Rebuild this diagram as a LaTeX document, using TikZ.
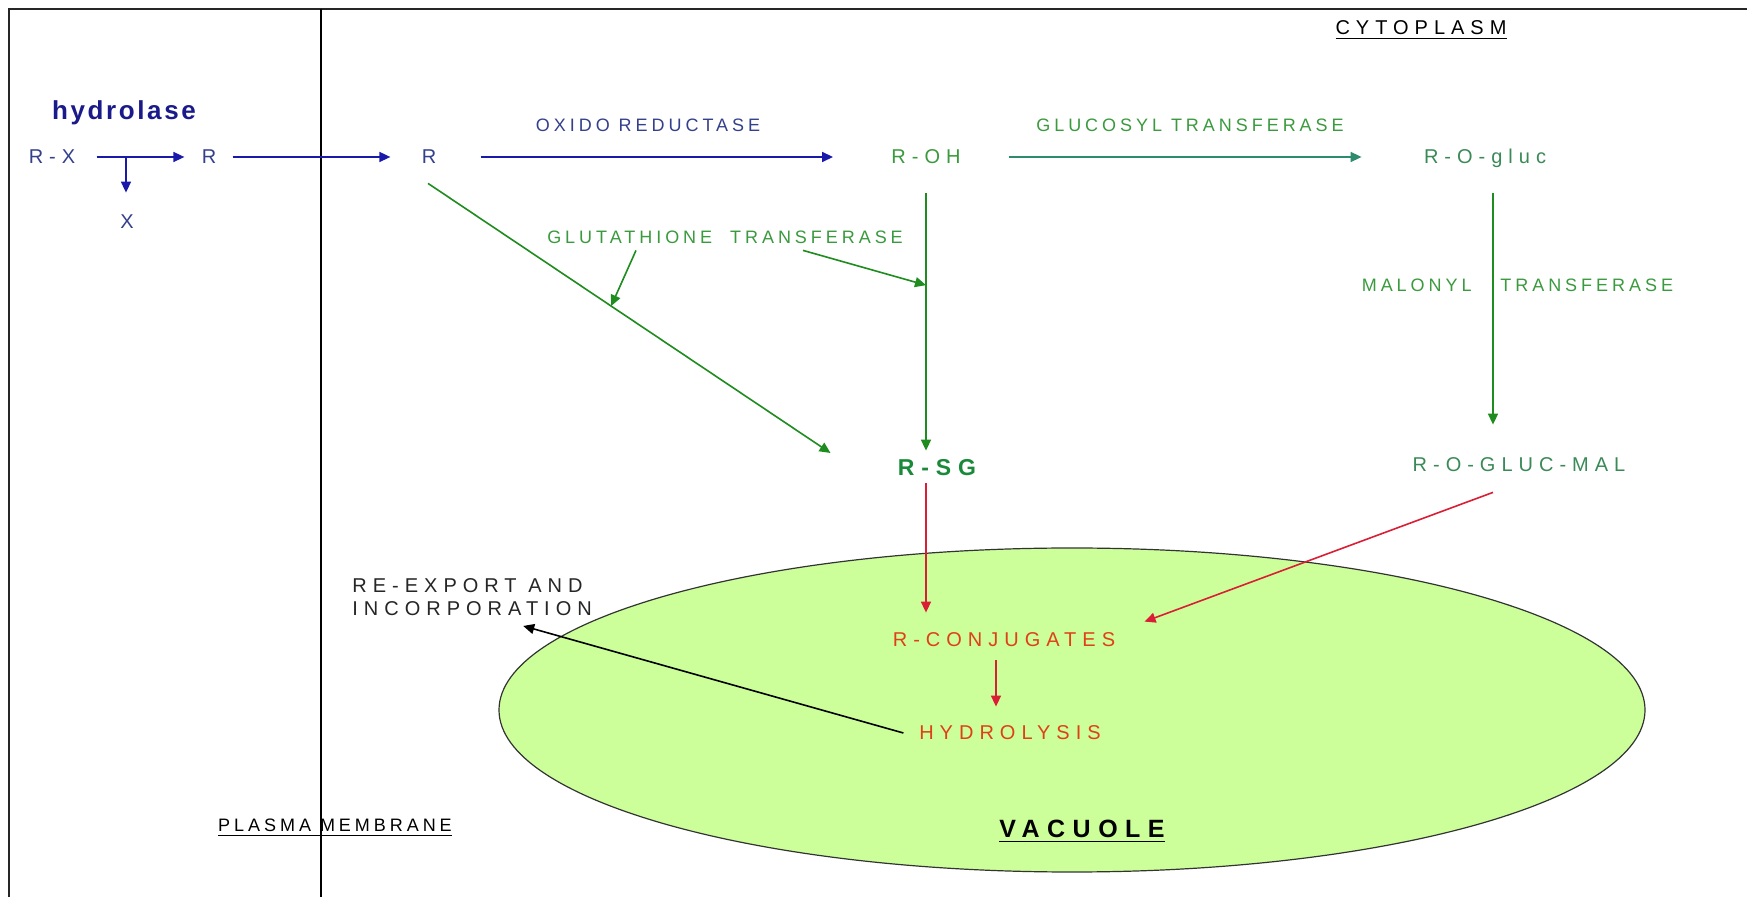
\documentclass[tikz,border=0pt]{standalone}
\usepackage{fontspec}
\setmainfont{Liberation Sans}
\newfontfamily\widefont[LetterSpace=30]{Liberation Sans}
\newfontfamily\enzfont[LetterSpace=22]{Liberation Sans}
\newfontfamily\titlefont[LetterSpace=10]{Liberation Sans}
\usetikzlibrary{arrows.meta,calc}

\definecolor{navytext}{HTML}{1A1A8A}
\definecolor{bluetext}{HTML}{34408C}
\definecolor{bluearrow}{HTML}{1A1AAA}
\definecolor{greentext}{HTML}{3A9A3E}
\definecolor{tealtext}{HTML}{3A8A58}
\definecolor{greenarrow}{HTML}{1E8C1E}
\definecolor{tealarrow}{HTML}{2E8B6E}
\definecolor{rsggreen}{HTML}{1A8A3A}
\definecolor{redtext}{HTML}{E04018}
\definecolor{redarrow}{HTML}{DA1E36}
\definecolor{vacgreen}{HTML}{CCFF99}

\begin{document}
\begin{tikzpicture}[
    x=0.5pt, y=-0.5pt,   % one unit = one pixel of the original, y downwards
    compound/.style={font=\widefont\fontsize{10}{12}\selectfont, inner sep=1pt, text height=7pt, text depth=0pt},
    enzyme/.style={font=\enzfont\fontsize{9}{11}\selectfont, inner sep=1pt, text height=6.5pt, text depth=0pt},
    heading/.style={font=\widefont\fontsize{10}{11.5}\selectfont, inner sep=1pt},
    flow/.style={-{Triangle[length=5.5pt,width=5pt]}, line width=0.8pt},
    frameline/.style={draw=black!85, line width=0.8pt}
]
    \useasboundingbox (0,0) rectangle (1747,897);
    \fill[white] (0,0) rectangle (1747,897);

    % =========================================================================
    % 1. FRAME, PLASMA MEMBRANE AND VACUOLE
    % =========================================================================
    \draw[frameline] (1747,9) -- (9,9) -- (9,897);
    \draw[draw=black, line width=1pt] (321,9) -- (321,897);

    % Vacuole (drawn first, everything else lies on top)
    \draw[draw=black!80, fill=vacgreen, line width=0.6pt] (1072,710) ellipse [x radius=573, y radius=162];

    \node[heading, anchor=base] (cyto) at (1421,35) {\underline{CYTOPLASM}};
    \node[font=\enzfont\fontsize{9}{11}\selectfont, anchor=base] (plasma) at (335,832) {\underline{PLASMA MEMBRANE}};
    \node[font=\widefont\bfseries\fontsize{12.5}{15}\selectfont, anchor=base] (vac) at (1082,838) {\underline{VACUOLE}};

    % =========================================================================
    % 2. COMPOUNDS AND ENZYMES
    % =========================================================================

    % Outside the cell
    \node[font=\titlefont\bfseries\fontsize{13}{15}\selectfont, text=navytext] (hyd) at (124,113) {hydrolase};
    \node[compound, text=bluetext] (RX) at (52,157) {R-X};
    \node[compound, text=bluetext] (Rout) at (209,157) {R};
    \node[compound, text=bluetext] (X) at (127,222) {X};
    \coordinate (split) at (126,157);

    % Cytoplasm
    \node[compound, text=bluetext] (Rin) at (429,157) {R};
    \node[compound, text=greentext] (ROH) at (926,157) {R-OH};
    \node[compound, text=tealtext] (ROG) at (1485,157) {R-O-gluc};
    \node[compound, font=\widefont\bfseries\fontsize{11.5}{13}\selectfont, text=rsggreen, text height=8.5pt] (RSG) at (937,467) {R-SG};
    \node[compound, text=tealtext] (ROGM) at (1519,465) {R-O-GLUC-MAL};
    \coordinate (malline) at ($(ROG.south)+(8,0)$);

    \node[enzyme, text=bluetext] (oxred) at (648,125) {OXIDO REDUCTASE};
    \node[enzyme, text=greentext] (gluco) at (1190,125) {GLUCOSYL TRANSFERASE};
    \node[enzyme, text=greentext] (glut) at (725,237) {GLUTATHIONE\ \ TRANSFERASE};
    \node[enzyme, text=greentext, anchor=east] (malo) at (1474,285) {MALONYL};
    \node[enzyme, text=greentext, anchor=west] (trans) at (1498,285) {TRANSFERASE};

    % Vacuole
    \node[compound, text=redtext] (conj) at (1004,640) {R-CONJUGATES};
    \node[compound, text=redtext] (hydro) at (1010,733) {HYDROLYSIS};
    \node[heading, text=black!85, align=left, anchor=north west] (reexp) at (350,576) {RE-EXPORT AND\\INCORPORATION};

    % =========================================================================
    % 3. REACTIONS
    % =========================================================================
    \draw[flow, bluearrow, shorten <=9.5pt, shorten >=7.5pt] (RX) -- (Rout);
    \draw[flow, bluearrow, shorten >=10pt] (split) -- (split |- X.north);
    \draw[flow, bluearrow, shorten <=7pt, shorten >=14.5pt] (Rout) -- (Rin);
    \draw[flow, bluearrow, shorten <=21pt, shorten >=28pt] (Rin) -- (ROH);
    \draw[flow, tealarrow, shorten <=23pt, shorten >=30pt] (ROH) -- (ROG);

    % Glutathione conjugation
    \draw[flow, greenarrow] ($(Rin.south)+(-1,17)$) -- ($(RSG.west)+(-65,-14)$) coordinate[pos=0.455] (onRSG);
    \draw[flow, greenarrow, shorten <=13.5pt, shorten >=2.75pt] (ROH.south) -- (ROH.south |- RSG.north) coordinate[pos=0.41] (onROH);
    \draw[flow, greenarrow] ($(glut.south)+(-89,4.5)$) -- (onRSG);
    \draw[flow, greenarrow] ($(glut.south)+(78,4.5)$) -- (onROH);

    % Malonylation
    \draw[flow, greenarrow, shorten <=13.5pt, shorten >=15.5pt] (malline) -- (malline |- ROGM.north);

    % Transport into the vacuole
    \draw[flow, redarrow, shorten <=2.75pt, shorten >=9pt] (ROH.south |- RSG.south) -- (ROH.south |- conj.north);
    \draw[flow, redarrow] ($(ROGM.south)+(-26,18)$) -- ($(conj.north east)+(27,-9)$);
    \draw[flow, redarrow] ($(conj.south)+(-8,11)$) -- ($(hydro.north)+(-14,-17)$);
    \draw[flow, black] ($(hydro.west)+(-13.5,0)$) -- ($(reexp.south east)+(-71,8)$);

\end{tikzpicture}
\end{document}
